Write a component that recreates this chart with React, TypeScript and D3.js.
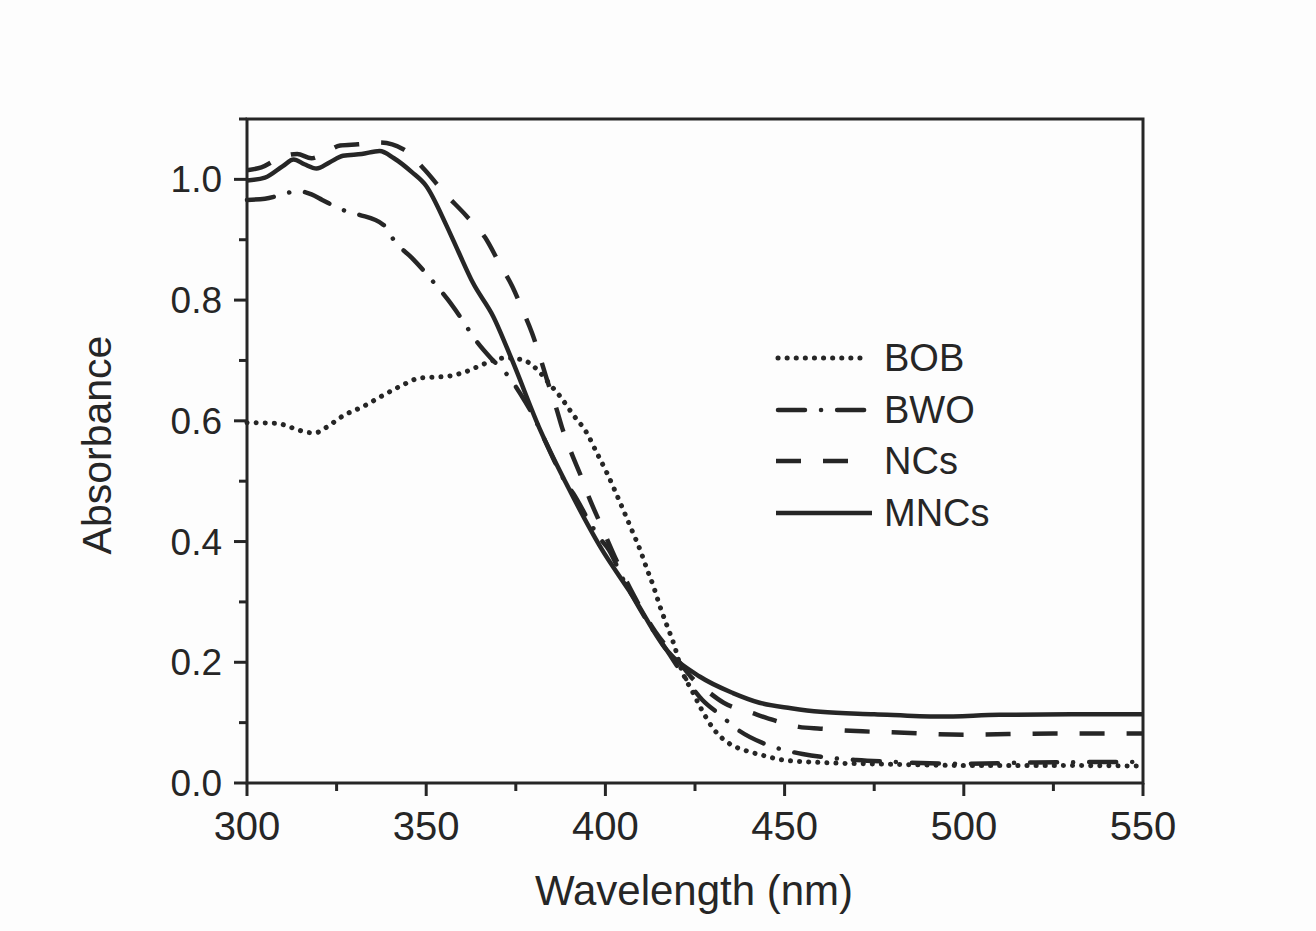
import React from "react";
import * as d3 from "d3";

const xTicks = [300, 350, 400, 450, 500, 550];
const yTicks = [0.0, 0.2, 0.4, 0.6, 0.8, 1.0];
const seriesNames = ["BOB", "BWO", "NCs", "MNCs"];

const bobX = [300, 308, 313.8, 316.6, 319, 321.8, 327, 332.5, 337.6, 342.7, 348.3, 356.2, 361.3, 366.9, 372, 377, 380, 385, 387.3, 391, 394.8, 397.6, 400.4, 404, 407.3, 409.7, 411.5, 413.4, 415.2, 417.1, 419, 421.3, 424.5, 426.9, 430, 435.2, 438.5, 443.8, 449.7, 460, 480, 500, 525, 550];
const bobY = [0.597, 0.596, 0.586, 0.581, 0.58, 0.588, 0.609, 0.624, 0.641, 0.657, 0.671, 0.674, 0.682, 0.696, 0.704, 0.701, 0.69, 0.657, 0.641, 0.61, 0.58, 0.547, 0.514, 0.466, 0.42, 0.386, 0.356, 0.326, 0.293, 0.262, 0.232, 0.187, 0.149, 0.121, 0.091, 0.063, 0.055, 0.046, 0.038, 0.034, 0.031, 0.029, 0.029, 0.028];

const bwoX = [300, 305, 310, 314, 318, 321, 326, 331, 338, 341.5, 346, 352, 356, 359.4, 364, 368, 372.5, 377.6, 380, 382.6, 389, 391, 395.7, 398, 401, 405, 408, 412, 417, 421, 427, 432, 437, 444, 449, 455, 462, 470, 480, 500, 520, 550];
const bwoY = [0.966, 0.968, 0.975, 0.981, 0.975, 0.966, 0.951, 0.942, 0.925, 0.895, 0.87, 0.83, 0.801, 0.773, 0.732, 0.704, 0.677, 0.632, 0.607, 0.574, 0.497, 0.48, 0.431, 0.409, 0.386, 0.337, 0.305, 0.265, 0.221, 0.185, 0.138, 0.113, 0.088, 0.066, 0.056, 0.048, 0.042, 0.038, 0.035, 0.032, 0.034, 0.035];

const ncsX = [300, 304, 310, 314, 318, 322, 326, 331, 337, 343.6, 349.7, 354.7, 361.3, 366.4, 370.6, 374, 377, 379.5, 381.8, 383.7, 386.4, 388, 390.7, 393, 395.7, 398.5, 403, 408, 414, 420, 424, 427.5, 433, 441, 447, 454, 460, 470, 480, 500, 525, 550];
const ncsY = [1.015, 1.02, 1.038, 1.042, 1.035, 1.045, 1.056, 1.058, 1.061, 1.05, 1.015, 0.98, 0.939, 0.904, 0.859, 0.823, 0.782, 0.746, 0.705, 0.668, 0.619, 0.587, 0.544, 0.511, 0.469, 0.431, 0.37, 0.31, 0.25, 0.205, 0.175, 0.157, 0.133, 0.116, 0.104, 0.093, 0.09, 0.086, 0.084, 0.08, 0.082, 0.082];

const mncsX = [300, 305, 310, 313, 316, 319.4, 323, 326.8, 332, 337, 341, 346, 350, 355.7, 359, 363, 368.7, 374, 381.8, 389, 398.5, 407.7, 417, 426.4, 435.6, 443, 451.8, 460, 475, 493, 510, 530, 550];
const mncsY = [0.998, 1.003, 1.022, 1.033, 1.025, 1.018, 1.028, 1.039, 1.042, 1.047, 1.035, 1.012, 0.989, 0.923, 0.88, 0.829, 0.773, 0.7, 0.585, 0.497, 0.392, 0.309, 0.221, 0.176, 0.149, 0.133, 0.124, 0.118, 0.114, 0.11, 0.113, 0.114, 0.114];

const seriesX = [bobX, bwoX, ncsX, mncsX];
const seriesY = [bobY, bwoY, ncsY, mncsY];
const dashes = ["0.1 9", "27 16 0.1 16", "25 22", ""];
const widths = [5, 4.5, 4.5, 4.5];

const W = 1316, H = 931;
const L = 247, R = 1143, T = 119, B = 783;
const ink = "#262626";
const font = "'Liberation Sans', Arial, sans-serif";

export default function App() {
  const x = d3.scaleLinear().domain([300, 550]).range([L, R]);
  const y = d3.scaleLinear().domain([0, 1.1]).range([B, T]);
  const line = d3.line<[number, number]>()
    .x(d => x(d[0]))
    .y(d => y(d[1]))
    .curve(d3.curveMonotoneX);

  const xMinor = d3.range(300, 551, 25);
  const yMinor = d3.range(0, 1.1001, 0.1);

  const legendY = [358, 410, 461, 513];

  return (
    <svg width={W} height={H} style={{ position: "absolute", left: 0, top: 0, background: "#fdfdfd" }}>
      <rect x={0} y={0} width={W} height={H} fill="#fdfdfd" />
      {seriesX.map((xs, i) => (
        <path
          key={seriesNames[i]}
          d={line(xs.map((v, j) => [v, seriesY[i][j]] as [number, number])) || ""}
          fill="none"
          stroke={ink}
          strokeWidth={widths[i]}
          strokeLinecap={i === 0 || i === 1 ? "round" : "butt"}
          strokeDasharray={dashes[i] || undefined}
        />
      ))}
      {/* frame */}
      <rect x={L} y={T} width={R - L} height={B - T} fill="none" stroke={ink} strokeWidth={3} />
      {/* x ticks */}
      {xMinor.map(v => (
        <line key={"xm" + v} x1={x(v)} x2={x(v)} y1={B} y2={B + (v % 50 === 0 ? 13 : 8)} stroke={ink} strokeWidth={3} />
      ))}
      {xTicks.map(v => (
        <text key={"xt" + v} x={x(v)} y={840} textAnchor="middle" fontFamily={font} fontSize={40} fill={ink}>{v}</text>
      ))}
      {/* y ticks */}
      {yMinor.map((v, i) => (
        <line key={"ym" + i} x1={L} x2={L - (i % 2 === 0 ? 13 : 8)} y1={y(v)} y2={y(v)} stroke={ink} strokeWidth={3} />
      ))}
      {yTicks.map(v => (
        <text key={"yt" + v} x={222} y={y(v) + 13} textAnchor="end" fontFamily={font} fontSize={37} fill={ink}>{v.toFixed(1)}</text>
      ))}
      <text x={(535 + 853) / 2} y={905} textAnchor="middle" fontFamily={font} fontSize={42} fill={ink}>Wavelength (nm)</text>
      <text transform={`translate(111, 445) rotate(-90)`} textAnchor="middle" fontFamily={font} fontSize={41} fill={ink}>Absorbance</text>
      {/* legend */}
      {seriesNames.map((n, i) => (
        <g key={"lg" + n}>
          <line x1={i === 0 || i === 1 ? 778 : 776} x2={i === 3 ? 872 : 868} y1={legendY[i]} y2={legendY[i]} stroke={ink} strokeWidth={widths[i]}
            strokeLinecap={i === 0 || i === 1 ? "round" : "butt"}
            strokeDasharray={dashes[i] || undefined} />
          <text x={884} y={legendY[i] + 13} fontFamily={font} fontSize={38} fill={ink}>{n}</text>
        </g>
      ))}
    </svg>
  );
}
